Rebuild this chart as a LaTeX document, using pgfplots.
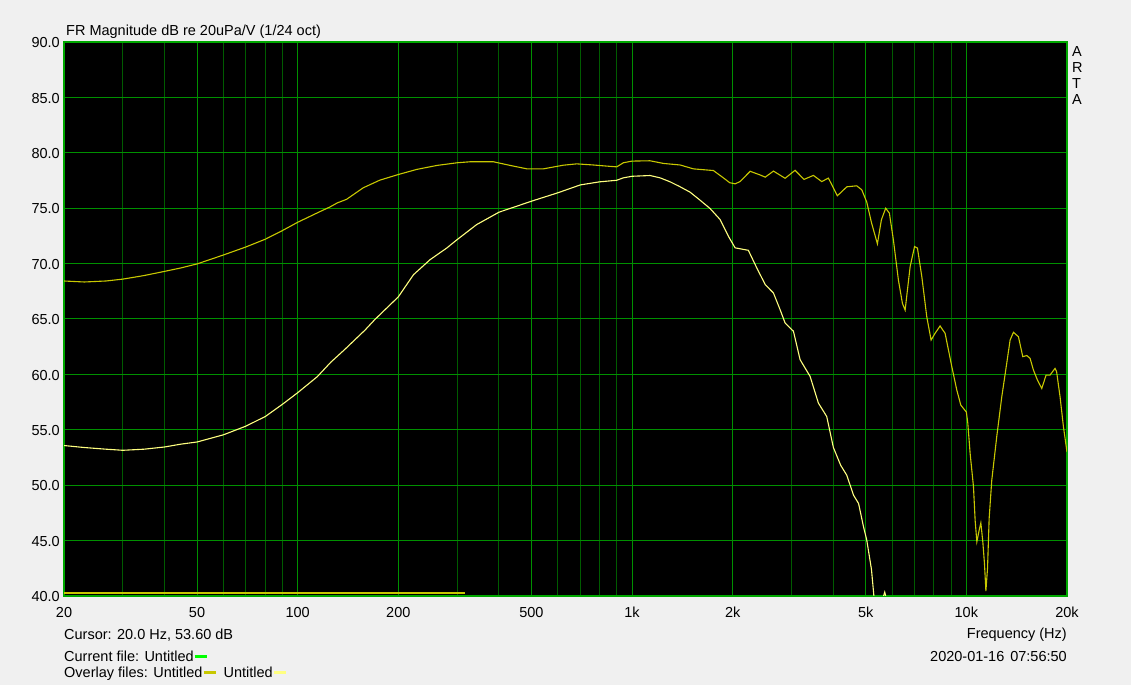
\documentclass[border=0pt]{standalone}
\usepackage{fontspec}
\setmainfont{Liberation Sans}
\usepackage{pgfplots}
\pgfplotsset{compat=1.18}

\definecolor{winbg}{HTML}{F0F0F0}
\definecolor{frame}{HTML}{00A800}
\definecolor{gmaj}{HTML}{009000}
\definecolor{gmin}{HTML}{005C00}
\definecolor{olivecurve}{HTML}{C8C800}
\definecolor{palecurve}{HTML}{FFFF80}
\definecolor{curgreen}{HTML}{00FF00}

\begin{document}
\fontsize{14.5bp}{17bp}\selectfont
\begin{tikzpicture}
\fill[winbg] (0,0) rectangle (1131bp,685bp);
\useasboundingbox (0,0) rectangle (1131bp,685bp);

\begin{axis}[
    at={(64bp,89bp)}, anchor=south west,
    scale only axis, width=1003bp, height=554bp,
    xmode=log, xmin=20, xmax=20000, ymin=40, ymax=90,
    axis background/.style={fill=black},
    axis line style={draw=frame, line width=1.5bp},
    xtick={20,50,100,200,500,1000,2000,5000,10000,20000},
    xticklabels={20,50,100,200,500,1k,2k,5k,10k,20k},
    minor xtick={30,40,60,70,80,90,300,400,600,700,800,900,3000,4000,6000,7000,8000,9000},
    ytick={40,45,...,90},
    yticklabels={40.0,45.0,50.0,55.0,60.0,65.0,70.0,75.0,80.0,85.0,90.0},
    major tick length=0pt, minor tick length=0pt,
    grid=both,
    major grid style={draw=gmaj, line width=1bp},
    minor grid style={draw=gmin, line width=1bp},
    xticklabel style={anchor=base, inner sep=0pt, yshift=-21.3bp, font=\fontsize{14.5bp}{17bp}\selectfont},
    yticklabel style={anchor=base east, inner sep=0pt, xshift=-4bp, yshift=-5.7bp, font=\fontsize{14.5bp}{17bp}\selectfont},
]
% olive overlay
\addplot[olivecurve, line width=1.1bp] coordinates {
(20,68.43)(23,68.34)(26.7,68.43)(30,68.6)(34.7,68.92)(40,69.3)(44.6,69.6)(50,69.97)
(60,70.78)(70,71.5)(80,72.2)(90,72.98)(100,73.73)(114.5,74.58)(125,75.12)(131.4,75.48)
(140,75.8)(157,76.84)(176,77.53)(200,78.04)(227,78.5)(261,78.86)(300,79.1)(328,79.19)
(385,79.19)(432,78.86)(485,78.55)(543,78.55)(623,78.88)(683,79.0)(766,78.9)(840,78.8)
(900,78.73)(942,79.1)(1000,79.25)(1132,79.28)(1241,79.04)(1393,78.9)(1526,78.55)
(1751,78.4)(1876,77.74)(1960,77.3)(2034,77.2)(2104,77.4)(2256,78.33)(2416,78.0)
(2503,77.8)(2648,78.35)(2870,77.7)(3074,78.42)(3270,77.6)(3488,77.96)(3694,77.4)
(3867,77.72)(4113,76.12)(4389,76.93)(4700,77.02)(4866,76.66)(5036,75.55)(5202,73.7)
(5420,71.78)(5570,73.95)(5738,75.0)(5886,74.55)(6050,72.14)(6264,68.5)(6440,66.4)
(6560,65.8)(6790,69.73)(7000,71.54)(7140,71.4)(7360,68.8)(7615,65.2)(7845,63.1)
(8060,63.7)(8345,64.37)(8640,63.7)(9046,60.7)(9361,58.6)(9624,57.23)(10000,56.6)
(10100,55.6)(10264,52.86)(10504,49.85)(10625,46.8)(10750,44.9)(10920,45.93)(11050,46.6)
(11200,44.9)(11330,42.9)(11440,40.45)(11570,42.5)(11700,47.0)(11913,50.45)(12330,54.4)
(12763,57.98)(13118,60.4)(13516,63.1)(13830,63.8)(14316,63.4)(14750,61.6)(15160,61.7)
(15510,61.45)(15870,60.4)(16310,59.5)(16810,58.73)(17320,59.94)(17800,59.94)(18420,60.54)
(18620,60.24)(19070,57.98)(19520,55.27)(20000,53.0)
};
% pale overlay
\addplot[palecurve, line width=1.1bp] coordinates {
(20,53.58)(23,53.4)(26.7,53.25)(30,53.15)(34.7,53.25)(40,53.45)(44.6,53.7)(50,53.9)
(60,54.55)(70,55.33)(80,56.2)(90,57.3)(100,58.35)(114.5,59.8)(125.6,61.1)(137.7,62.2)
(159,64.0)(170,64.94)(200,67.0)(222,69.0)(249,70.36)(279,71.4)(300,72.17)(343,73.52)
(400,74.64)(452,75.18)(500,75.63)(600,76.39)(700,77.1)(800,77.38)(900,77.52)(942,77.74)
(1000,77.88)(1132,77.95)(1213,77.74)(1300,77.38)(1393,76.93)(1491,76.45)(1598,75.72)
(1712,74.97)(1834,73.98)(1942,72.47)(2034,71.42)(2228,71.2)(2362,69.6)(2503,68.1)
(2648,67.35)(2773,65.84)(2870,64.64)(3039,63.9)(3182,61.33)(3409,59.82)(3610,57.41)
(3823,56.2)(4002,53.4)(4208,51.8)(4389,50.9)(4597,49.1)(4760,48.35)(4920,46.3)
(5036,45.05)(5202,42.4)(5290,40.0)(5400,38.5)(5600,39.6)(5700,40.35)(5780,39.6)(5900,37)
};
% current file trace at the floor
\addplot[olivecurve, line width=2bp] coordinates {(20,40.3)(316,40.3)};
\end{axis}

\node[anchor=base west, inner sep=0pt] at (66bp,649.5bp) {FR Magnitude dB re 20uPa/V (1/24 oct)};
\node[anchor=base west, inner sep=0pt] at (1072bp,628bp) {A};
\node[anchor=base west, inner sep=0pt] at (1072bp,612bp) {R};
\node[anchor=base west, inner sep=0pt] at (1072bp,596bp) {T};
\node[anchor=base west, inner sep=0pt] at (1072bp,580bp) {A};

\node[anchor=base west, inner sep=0pt] at (64bp,45bp) {Cursor: 20.0 Hz, 53.60 dB};
\node[anchor=base west, inner sep=0pt] at (64bp,24bp) {Current file: Untitled\hspace{1bp}{\color{curgreen}\rule[3bp]{12bp}{3bp}}};
\node[anchor=base west, inner sep=0pt] at (64bp,8bp) {Overlay files: Untitled\hspace{1bp}{\color{olivecurve}\rule[3bp]{12bp}{3bp}}\hspace{8bp}Untitled\hspace{1bp}{\color{palecurve}\rule[3bp]{12bp}{3bp}}};

\node[anchor=base east, inner sep=0pt] at (1067bp,46bp) {Frequency (Hz)};
\node[anchor=base east, inner sep=0pt] at (1067bp,24bp) {2020-01-16\hspace{6bp}07:56:50};
\end{tikzpicture}
\end{document}
